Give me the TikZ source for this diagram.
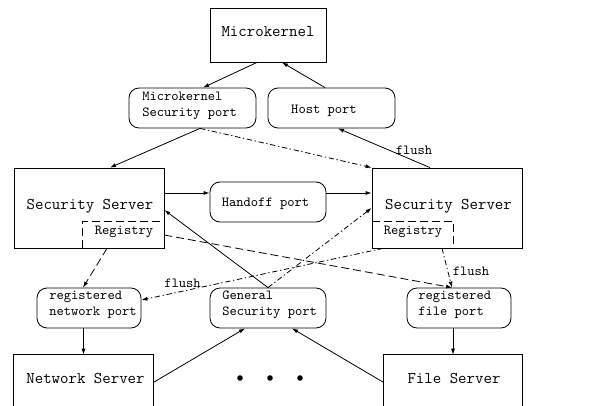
\documentclass[tikz,border=0pt]{standalone}
\usepackage{fontspec}
\usetikzlibrary{calc,arrows.meta}
\begin{document}
\begin{tikzpicture}[x=0.75pt,y=-0.75pt,
  bx/.style 2 args={draw, line width=0.6pt, minimum width=#1*0.75pt, minimum height=#2*0.75pt, inner sep=0pt},
  rbx/.style 2 args={bx={#1}{#2}, rounded corners=7.5pt},
  ghost/.style 2 args={minimum width=#1*0.75pt, minimum height=#2*0.75pt, inner sep=0pt},
  big/.style={font=\ttfamily\fontsize{12.3}{13}\selectfont, inner sep=0pt},
  sm/.style={font=\ttfamily\fontsize{10.4}{12}\selectfont, inner sep=0pt, align=left},
  con/.style={line width=0.6pt, -{Latex[length=4.5pt,width=3pt]}},
  dsh/.style={con, dash pattern=on 6pt off 3pt},
  dd/.style={con, dash pattern=on 4pt off 2pt on 1pt off 2pt},
  dot/.style={circle, fill, inner sep=0pt, minimum size=4.2pt}]
\useasboundingbox (0,0) rectangle (607,406);

% boxes
\node[bx={116}{54}] (mk) at (268,35) {};
\node[big] (tmk) at (268,32) {Microkernel};
\node[rbx={127}{40}] (msp) at (192.5,108) {};
\node[sm, anchor=west] (tmsp) at (142,105.5) {Microkernel\\Security port};
\node[rbx={127}{40}] (hp) at (331.5,108) {};
\node[sm] (thp) at (324,111) {Host port};

\node[bx={150}{80}] (lss) at (89,208) {};
\node[big] (tlss) at (90,206) {Security Server};
\node[ghost={81}{26}] (lreg) at (123.5,235) {};
\draw[line width=0.6pt, dash pattern=on 6pt off 3pt] (lreg.south west) -- (lreg.north west) -- (lreg.north east);
\node[sm] (tlreg) at (124,232) {Registry};

\node[rbx={116}{40}] (ho) at (268,202) {};
\node[sm] (tho) at (265.5,204) {Handoff port};

\node[bx={150}{80}] (rss) at (447,208) {};
\node[big] (trss) at (448.5,206) {Security Server};
\node[ghost={81}{26}] (rreg) at (412.5,235) {};
\draw[line width=0.6pt, dash pattern=on 6pt off 3pt] (rreg.north west) -- (rreg.north east) -- ($(rreg.south east)+(0,-3)$);
\node[sm] (trreg) at (413,232) {Registry};

\node[rbx={104}{40}] (rnp) at (89,308) {};
\node[sm, anchor=west] (trnp) at (49,305) {registered\\network port};
\node[rbx={116}{40}] (gsp) at (268,308) {};
\node[sm, anchor=west] (tgsp) at (222,305) {General\\Security port};
\node[rbx={104}{40}] (rfp) at (459,308) {};
\node[sm, anchor=west] (trfp) at (418,305) {registered\\file port};

\node[ghost={139}{55}] (ns) at (83.5,382.5) {};
\draw[line width=0.6pt] (ns.south west) -- (ns.north west) -- (ns.north east) -- (ns.south east);
\node[big] (tns) at (85.5,378) {Network Server};
\node[ghost={138}{55}] (fs) at (453,382.5) {};
\draw[line width=0.6pt] (fs.south west) -- (fs.north west) -- (fs.north east) -- (fs.south east);
\node[big] (tfs) at (454,378) {File Server};

\node[dot] (d1) at (240,378) {};
\node[dot] (d2) at (270,378) {};
\node[dot] (d3) at (300,378) {};

% connectors
\draw[con] ($(mk.south)+(-11,0)$) -- ($(msp.north)+(10.5,0)$);
\draw[con] ($(hp.north)+(-6.5,0)$) -- ($(mk.south)+(14,0)$);
\draw[con] ($(msp.south)+(7.5,0)$) -- ($(lss.north)+(21,0)$);
\draw[dd] ($(msp.south)+(7.5,0)$) -- (rss.north west);
\draw[con] ($(rss.north)+(-17,0)$) -- ($(hp.south)+(6.5,0)$);
\node[sm] (fl1) at (414,150) {flush};
\draw[con] ($(lss.east)+(0,-15)$) -- ($(ho.west)+(0,-9)$);
\draw[con] ($(ho.east)+(0,-9)$) -- ($(rss.west)+(0,-15)$);
\draw[con] (gsp.north) -- ($(lss.east)+(0,2)$);
\draw[dd] (gsp.north) -- (rss.west);
\draw[dsh] (lreg.east) -- ($(rfp.north)+(-7,0)$);
\draw[dsh] ($(lss.south)+(18,0)$) -- ($(rnp.north)+(-6,0)$);
\draw[dd] ($(rss.south)+(-64,0)$) -- ($(rnp.east)+(0,-8)$);
\node[sm] (fl2) at (182.5,283) {flush};
\draw[dd] ($(rss.south)+(-5,0)$) -- ($(rfp.north)+(-7,0)$);
\node[sm] (fl3) at (471,271) {flush};
\draw[con] (ns.north |- rnp.south) -- (ns.north);
\draw[con] (fs.north |- rfp.south) -- (fs.north);
\draw[con] (ns.east) -- ($(gsp.south)+(-23,0)$);
\draw[con] (fs.west) -- ($(gsp.south)+(24,0)$);
\end{tikzpicture}
\end{document}
